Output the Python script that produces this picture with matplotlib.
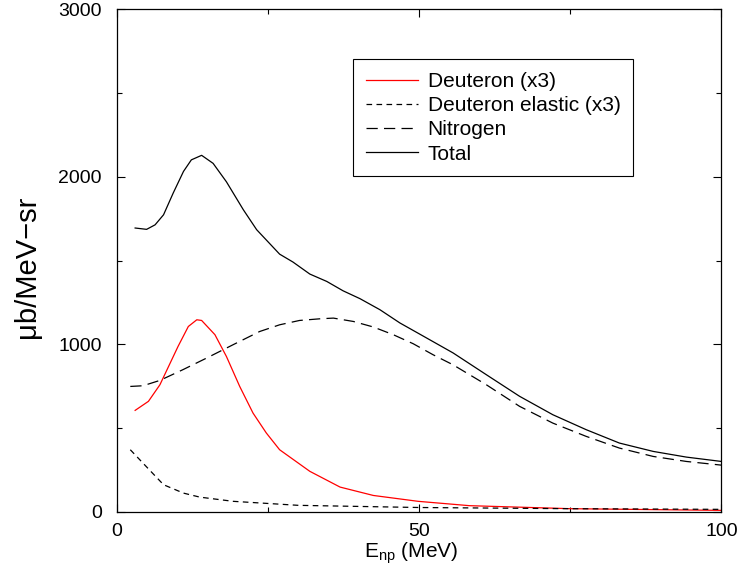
import matplotlib
matplotlib.use('Agg')
import matplotlib.pyplot as plt
from matplotlib.ticker import MultipleLocator

plt.rcParams['font.family'] = ['Liberation Sans', 'DejaVu Sans']
plt.rcParams['mathtext.default'] = 'regular'

# Values
deut_e = [3.0, 5.2, 7.1, 10.1, 11.8, 13.2, 14.0, 16.2, 18.1, 20.3, 22.5, 24.7,
          26.9, 31.9, 36.9, 42.4, 49.8, 58.3, 75.0, 100.0]
deut_y = [605, 659, 758, 987, 1106, 1146, 1142, 1057, 927, 748, 589, 470,
          370, 241, 147, 97, 62, 36, 18, 8]

elastic_e = [2.2, 4.3, 7.7, 11.0, 13.7, 19.2, 30.0, 50.0, 75.0, 100.0]
elastic_y = [370, 290, 161, 111, 87, 62, 38, 25, 18, 14]

nitro_e = [2.2, 4.3, 7.1, 10.9, 14.8, 19.2, 23.6, 26.9, 30.2, 33.6, 35.8, 39.1,
           42.4, 45.7, 49.0, 52.3, 55.6, 61.1, 66.6, 72.1, 77.6, 83.1, 88.7,
           94.2, 100.0]
nitro_y = [748, 752, 784, 848, 917, 997, 1076, 1116, 1142, 1152, 1156, 1136,
           1103, 1057, 1003, 937, 877, 758, 629, 529, 450, 380, 330, 300, 278]

total_e = [3.0, 4.9, 6.3, 7.7, 9.3, 11.0, 12.3, 14.0, 15.9, 18.1, 20.9, 23.1,
           26.9, 29.1, 31.9, 34.7, 37.4, 40.2, 43.5, 46.8, 50.1, 55.6, 61.1,
           66.6, 72.1, 77.6, 83.1, 88.7, 94.2, 100.0]
total_y = [1694, 1686, 1713, 1773, 1903, 2032, 2101, 2128, 2080, 1970, 1803, 1684,
           1538, 1491, 1419, 1375, 1319, 1272, 1206, 1127, 1060, 948, 818,
           689, 579, 490, 410, 360, 326, 300]

fig = plt.figure(figsize=(7.41, 5.80), dpi=100)
ax = fig.add_axes([117 / 741, 1 - 511.7 / 580, 604.5 / 741, 502.4 / 580])

lw = 0.9
ax.plot(deut_e, deut_y, color='#ff0000', lw=lw, label='Deuteron (x3)')
ax.plot(elastic_e, elastic_y, color='black', lw=lw, dashes=(4.5, 3.5),
        label='Deuteron elastic (x3)')
ax.plot(nitro_e, nitro_y, color='black', lw=lw, dashes=(9, 5), label='Nitrogen')
ax.plot(total_e, total_y, color='black', lw=lw, label='Total')

ax.set_xlim(0, 100)
ax.set_ylim(0, 3000)
ax.set_xticks([0, 50, 100])
ax.set_yticks([0, 1000, 2000, 3000])
ax.xaxis.set_minor_locator(MultipleLocator(25))
ax.yaxis.set_minor_locator(MultipleLocator(500))
ax.tick_params(which='both', direction='in', top=True, right=True, width=0.8,
               labelsize=14)
ax.tick_params(which='major', length=5.8)
ax.tick_params(which='minor', length=3.6)
ax.tick_params(axis='y', pad=11)
ax.tick_params(axis='x', pad=8)
for s in ax.spines.values():
    s.set_linewidth(0.9)

ax.set_xlabel('E$_{np}$ (MeV)', fontsize=15)
ax.xaxis.set_label_coords(0.487, -0.057)
ax.set_ylabel('\u03bcb/MeV\u2212sr', fontsize=21)
ax.yaxis.set_label_coords(-0.126, 0.488)

leg = ax.legend(loc='upper left', bbox_to_anchor=(0.39, 0.901), borderaxespad=0,
                fontsize=15, handlelength=2.5, handletextpad=0.47,
                labelspacing=0.25, borderpad=0.62, fancybox=False,
                framealpha=1, edgecolor='black')
leg.get_frame().set_linewidth(0.8)

fig.savefig('out.png', dpi=100)
